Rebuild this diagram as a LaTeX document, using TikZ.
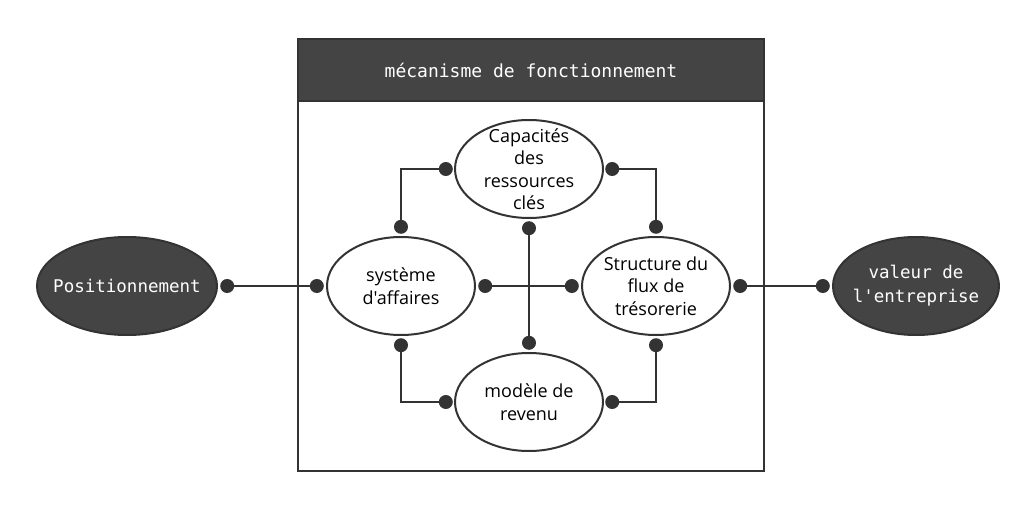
\documentclass[tikz,border=0pt]{standalone}
\usepackage{fontspec}
\setsansfont{Open Sans}[Ligatures=TeXOff]
\newfontfamily\monofont{DejaVu Sans Mono}
\usetikzlibrary{positioning, shapes.geometric}
\definecolor{darkfill}{HTML}{444444}
\definecolor{linegray}{HTML}{333333}

\begin{document}
\begin{tikzpicture}[x=1pt, y=-1pt,
  font=\sffamily\fontsize{18}{22.5}\selectfont,
  monotext/.style={text=white, font=\monofont\fontsize{17.5}{24}\selectfont},
  outer/.style={draw=linegray, ellipse, fill=darkfill, line width=2pt, inner xsep=-12pt, inner ysep=0pt, minimum height=98pt, align=center, monotext},
  inner/.style={draw=linegray, ellipse, fill=white, line width=2pt, inner xsep=-10pt, inner ysep=-20pt, minimum width=148pt, minimum height=98pt, align=center},
  frame/.style={draw=linegray, line width=2pt, inner sep=0pt, minimum width=466pt, anchor=north west},
  dot/.style={circle, fill=linegray, inner sep=0pt, minimum size=14pt},
  link/.style={draw=linegray, line width=2.5pt}
]
  \useasboundingbox (0,0) rectangle (1036,508);
  % cadre et titre
  \node[frame, minimum height=432pt] (M) at (297,38) {};
  \node[frame, minimum height=62pt, fill=darkfill, monotext, font=\monofont\fontsize{18}{24}\selectfont] (T) at (297,38) {mécanisme de fonctionnement};
  % ellipses
  \node[outer, minimum width=180pt] (pos) at (127,286) {Positionnement};
  \node[outer, minimum width=166pt] (val) at (916,286) {valeur de\\l'entreprise};
  \node[inner] (sys) at (401,286) {système\\d'affaires};
  \node[inner] (flux) at (656,286) {Structure du\\flux de\\trésorerie};
  \node[inner] (cap) at (529,169) {Capacités\\des\\ressources\\clés};
  \node[inner] (rev) at (529,402) {modèle de\\revenu};
  % points de liaison
  \node[dot, right=2pt of pos.east] (pos-e) {};
  \node[dot, left=2pt of val.west] (val-w) {};
  \node[dot, left=2pt of sys.west] (sys-w) {};
  \node[dot, right=2pt of sys.east] (sys-e) {};
  \node[dot, above=2pt of sys.north] (sys-n) {};
  \node[dot, below=2pt of sys.south] (sys-s) {};
  \node[dot, left=2pt of flux.west] (flux-w) {};
  \node[dot, right=2pt of flux.east] (flux-e) {};
  \node[dot, above=2pt of flux.north] (flux-n) {};
  \node[dot, below=2pt of flux.south] (flux-s) {};
  \node[dot, left=1pt of cap.west] (cap-w) {};
  \node[dot, right=1pt of cap.east] (cap-e) {};
  \node[dot, below=2pt of cap.south] (cap-s) {};
  \node[dot, left=1pt of rev.west] (rev-w) {};
  \node[dot, right=1pt of rev.east] (rev-e) {};
  \node[dot, above=2pt of rev.north] (rev-n) {};
  % liaisons
  \draw[link] (pos-e) -- (sys-w);
  \draw[link] (sys-e) -- (flux-w);
  \draw[link] (cap-s) -- (rev-n);
  \draw[link] (cap-w) -| (sys-n);
  \draw[link] (cap-e) -| (flux-n);
  \draw[link] (sys-s) |- (rev-w);
  \draw[link] (flux-s) |- (rev-e);
  \draw[link] (flux-e) -- (val-w);
\end{tikzpicture}
\end{document}
